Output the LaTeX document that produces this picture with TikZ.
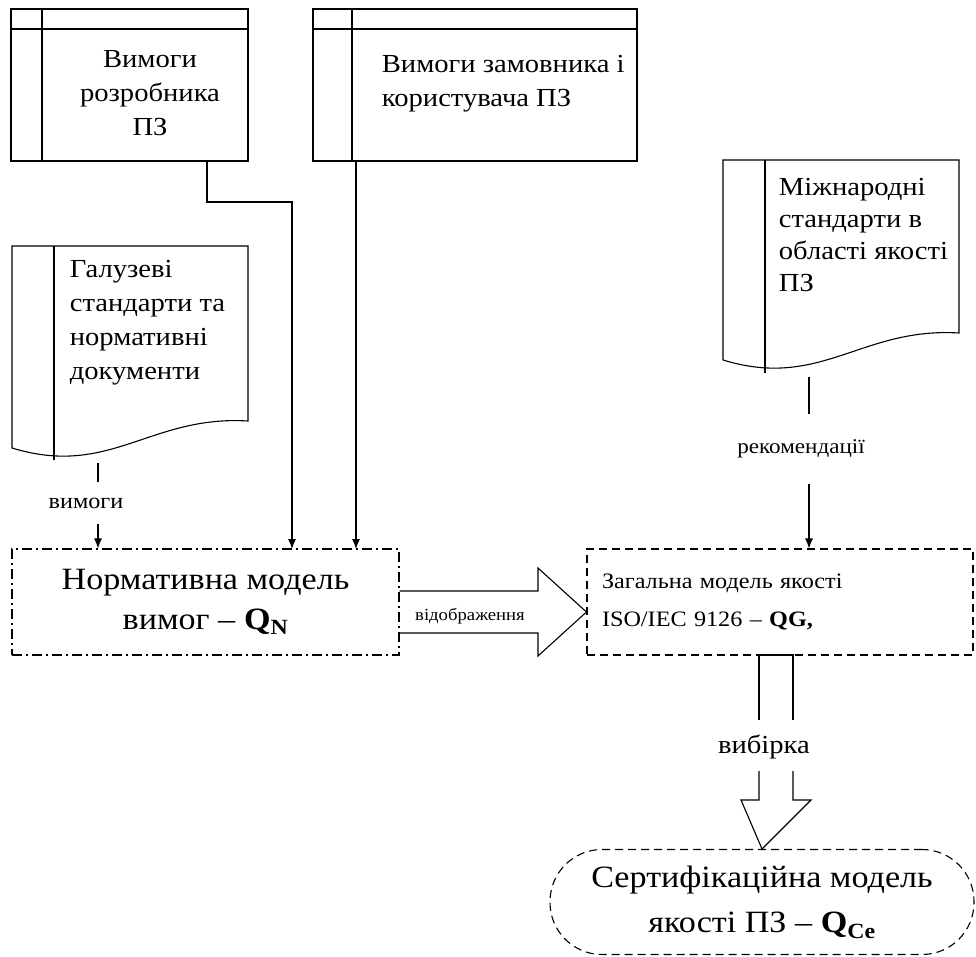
\documentclass[tikz,border=0pt]{standalone}
\usepackage{fontspec}
\setmainfont{Liberation Serif}[FakeStretch=1.1]
\usepackage{tikz}
\usetikzlibrary{arrows.meta}
\usetikzlibrary{shapes}

\tikzset{
  arr/.style={-{Latex[length=10pt,width=8pt]}},
  bigtxt/.style={font=\fontsize{31}{40}\selectfont},
  midtxt/.style={font=\fontsize{26}{34}\selectfont},
  smalltxt/.style={font=\fontsize{21}{24}\selectfont},
  dashbox/.style={draw, dash pattern={on 8pt off 5pt}},
}

\begin{document}
\begin{tikzpicture}[x=1pt,y=1pt,yscale=-1,xscale=1,line width=1.1pt]
\useasboundingbox (0,0) rectangle (976,957);

%Shape: Rectangle (internal storage)
\draw (11,9) rectangle (248,161);
\draw (11,29) -- (248,29);
\draw (42,9) -- (42,161);
\coordinate (rozrb-out) at (207,161);
%Shape: Rectangle (internal storage)
\draw (313,9) rectangle (637,161);
\draw (313,29) -- (637,29);
\draw (352,9) -- (352,161);
\coordinate (zamov-out) at (356,161);

%Shape: Document
\draw (12,246) -- (248,246) -- (248,421) .. controls (150,415) and (110,478) .. (12,448) -- cycle;
\draw (54,246) -- (54,460);
\coordinate (galuz-out) at (98,463);
%Shape: Document
\draw (723,160) -- (959,160) -- (959,333) .. controls (861,327) and (821,390) .. (723,360) -- cycle;
\draw (765,160) -- (765,373);
\coordinate (mizh-out) at (809,377);

% Text Node
\node (rozrb) [midtxt, align=center] at (150,93) {Вимоги\\розробника\\ПЗ};
% Text Node
\node (zamov) [midtxt, align=left, anchor=west] at (378,84) {Вимоги замовника і\\користувача ПЗ};
% Text Node
\node (galuz) [midtxt, align=left, anchor=west] at (66,323) {Галузеві\\стандарти та\\нормативні\\документи};
% Text Node
\node (mizh) [midtxt, font=\fontsize{26}{32}\selectfont, align=left, anchor=west] at (775,235) {Міжнародні\\стандарти в\\області якості\\ПЗ};

%Shape: Rectangle
\node (norm) [bigtxt, draw, dash pattern={on 10pt off 4pt on 2pt off 4pt}, minimum width=387, minimum height=106, align=center] at (205.5,602) {Нормативна модель\\вимог – \textbf{Q\textsubscript{N}}};
\coordinate (norm-in1) at (292,549);
\coordinate (norm-in2) at (356,549);
%Shape: Rectangle
\node (zag) [font=\fontsize{22}{38}\selectfont, dashbox, minimum width=386, minimum height=106, text width=356, align=left] at (780,602) {Загальна модель якості\\ISO/IEC 9126 – \textbf{QG,}};
%Shape: Rounded Rectangle
\node (sert) [font=\fontsize{31}{45}\selectfont, dashbox, rounded corners=52, minimum width=424, minimum height=105, align=center] at (762,902) {Сертифікаційна модель\\якості ПЗ – \textbf{Q\textsubscript{Ce}}};

%Straight Lines
\draw [arr] (rozrb-out) -- ++(0,41) -| (norm-in1);
\draw [arr] (zamov-out) -- (norm-in2);

% Text Node
\node (vymohy) [font=\fontsize{22}{24}\selectfont, minimum height=40] at (86,503) {вимоги};
\draw (galuz-out) -- (galuz-out |- vymohy.north);
\draw [arr] (galuz-out |- vymohy.south) -- (galuz-out |- norm.north);

% Text Node
\node (rekom) [smalltxt, minimum height=68] at (801,449) {рекомендації};
\draw (mizh-out) -- (mizh-out |- rekom.north);
\draw [arr] (mizh-out |- rekom.south) -- (mizh-out |- zag.north);

%Shape: Right Arrow
\draw (norm.east |- 0,591) -- (538,591) -- (538,568) -- (zag.west |- 0,612) -- (538,656) -- (538,633) -- (norm.east |- 0,633);
% Text Node
\node (vidobr) [font=\fontsize{17}{20}\selectfont] at (470,616) {відображення};

%Shape: Down Arrow
\draw (759,720) -- (759,655) -- (793,655) -- (793,720);
\draw (759,771) -- (759,800) -- (741,800) -- (sert.north) -- (811,800) -- (793,800) -- (793,771);
% Text Node
\node (vybirka) [font=\fontsize{26}{30}\selectfont] at (764,747) {вибірка};

\end{tikzpicture}
\end{document}
